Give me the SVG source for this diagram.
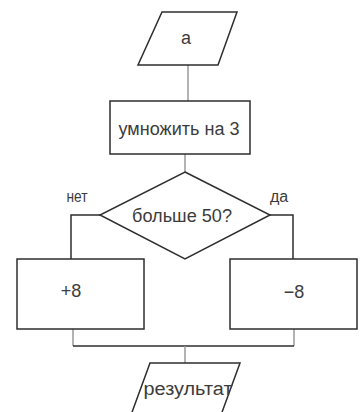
<svg xmlns="http://www.w3.org/2000/svg" width="363" height="412" viewBox="0 0 363 412">
<style>
.shape{fill:#fff;stroke:#2e2e2e;stroke-width:1.5}
.ln{fill:none;stroke:#2e2e2e;stroke-width:1.5}
.lg{fill:none;stroke:#9a9a9a;stroke-width:1.5}
text{font-family:"Liberation Sans",Arial,sans-serif;fill:#3c3c3c;text-anchor:middle}
.t{font-size:18px}
.s{font-size:16px}
</style>
<rect width="363" height="412" fill="#fff"/>
<g id="connectors">
<line class="lg" x1="188" y1="65" x2="188" y2="101"/>
<line class="lg" x1="185" y1="154" x2="185" y2="172"/>
<polyline class="ln" points="100,215 71,215 71,259"/>
<polyline class="ln" points="270,215 293,215 293,259"/>
<line class="lg" x1="73" y1="329" x2="73" y2="346"/>
<line class="lg" x1="294" y1="329" x2="294" y2="346"/>
<line class="ln" x1="73" y1="346" x2="294" y2="346"/>
<line class="lg" x1="185" y1="346" x2="185" y2="363"/>
</g>
<g id="input">
<polygon class="shape" points="162,12 237,12 218,65 138,65"/>
<text class="t" x="186" y="44">a</text>
</g>
<g id="multiply">
<rect class="shape" x="110" y="101" width="140" height="53"/>
<text class="t" x="179" y="135" textLength="121" lengthAdjust="spacingAndGlyphs">умножить на 3</text>
</g>
<g id="decision">
<polygon class="shape" points="185,172 270,215 185,259 100,215"/>
<text class="t" x="182" y="222" textLength="100" lengthAdjust="spacingAndGlyphs">больше 50?</text>
</g>
<g id="label-no"><text class="s" x="77" y="202" textLength="21" lengthAdjust="spacingAndGlyphs">нет</text></g>
<g id="label-yes"><text class="s" x="279" y="202">да</text></g>
<g id="plus8">
<rect class="shape" x="17" y="259" width="127" height="70"/>
<text class="t" x="71" y="297">+8</text>
</g>
<g id="minus8">
<rect class="shape" x="230" y="259" width="127" height="70"/>
<text class="t" x="294" y="298">−8</text>
</g>
<g id="output">
<polygon class="shape" points="150,363 240,363 221,415 131,415"/>
<text class="t" x="188" y="395" textLength="89" lengthAdjust="spacingAndGlyphs">результат</text>
</g>
</svg>
